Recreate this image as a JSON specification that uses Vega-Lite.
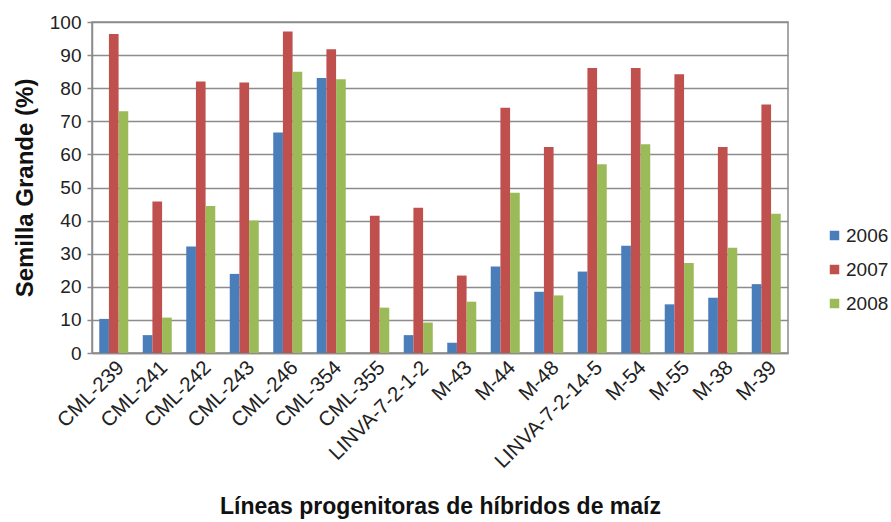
{
  "$schema": "https://vega.github.io/schema/vega-lite/v6.json",
  "width": 696,
  "height": 331,
  "autosize": {"type": "none"},
  "padding": {"left": 92, "top": 22, "right": 103, "bottom": 169},
  "background": "white",
  "config": {
    "font": "Liberation Sans",
    "view": {"stroke": "#8c8c8c", "strokeWidth": 1.5}
  },
  "data": {
    "values": [
      {"linea": "CML-239", "year": "2006", "value": 10.3},
      {"linea": "CML-239", "year": "2007", "value": 96.4},
      {"linea": "CML-239", "year": "2008", "value": 73.0},
      {"linea": "CML-241", "year": "2006", "value": 5.4},
      {"linea": "CML-241", "year": "2007", "value": 45.8},
      {"linea": "CML-241", "year": "2008", "value": 10.7},
      {"linea": "CML-242", "year": "2006", "value": 32.2},
      {"linea": "CML-242", "year": "2007", "value": 82.0},
      {"linea": "CML-242", "year": "2008", "value": 44.4},
      {"linea": "CML-243", "year": "2006", "value": 23.9},
      {"linea": "CML-243", "year": "2007", "value": 81.7},
      {"linea": "CML-243", "year": "2008", "value": 40.0},
      {"linea": "CML-246", "year": "2006", "value": 66.6},
      {"linea": "CML-246", "year": "2007", "value": 97.1},
      {"linea": "CML-246", "year": "2008", "value": 85.0},
      {"linea": "CML-354", "year": "2006", "value": 83.1},
      {"linea": "CML-354", "year": "2007", "value": 91.8},
      {"linea": "CML-354", "year": "2008", "value": 82.7},
      {"linea": "CML-355", "year": "2006", "value": 0},
      {"linea": "CML-355", "year": "2007", "value": 41.5},
      {"linea": "CML-355", "year": "2008", "value": 13.7},
      {"linea": "LINVA-7-2-1-2", "year": "2006", "value": 5.4},
      {"linea": "LINVA-7-2-1-2", "year": "2007", "value": 43.9},
      {"linea": "LINVA-7-2-1-2", "year": "2008", "value": 9.2},
      {"linea": "M-43", "year": "2006", "value": 3.1},
      {"linea": "M-43", "year": "2007", "value": 23.4},
      {"linea": "M-43", "year": "2008", "value": 15.5},
      {"linea": "M-44", "year": "2006", "value": 26.1},
      {"linea": "M-44", "year": "2007", "value": 74.1},
      {"linea": "M-44", "year": "2008", "value": 48.4},
      {"linea": "M-48", "year": "2006", "value": 18.5},
      {"linea": "M-48", "year": "2007", "value": 62.2},
      {"linea": "M-48", "year": "2008", "value": 17.4},
      {"linea": "LINVA-7-2-14-5", "year": "2006", "value": 24.6},
      {"linea": "LINVA-7-2-14-5", "year": "2007", "value": 86.1},
      {"linea": "LINVA-7-2-14-5", "year": "2008", "value": 57.0},
      {"linea": "M-54", "year": "2006", "value": 32.4},
      {"linea": "M-54", "year": "2007", "value": 86.1},
      {"linea": "M-54", "year": "2008", "value": 63.1},
      {"linea": "M-55", "year": "2006", "value": 14.7},
      {"linea": "M-55", "year": "2007", "value": 84.2},
      {"linea": "M-55", "year": "2008", "value": 27.2},
      {"linea": "M-38", "year": "2006", "value": 16.7},
      {"linea": "M-38", "year": "2007", "value": 62.2},
      {"linea": "M-38", "year": "2008", "value": 31.8},
      {"linea": "M-39", "year": "2006", "value": 20.8},
      {"linea": "M-39", "year": "2007", "value": 75.1},
      {"linea": "M-39", "year": "2008", "value": 42.1}
    ]
  },
  "mark": {"type": "bar"},
  "encoding": {
    "x": {
      "field": "linea",
      "type": "nominal",
      "sort": null,
      "scale": {"paddingInner": 0.333, "paddingOuter": 0.1667},
      "axis": {
        "title": "Líneas progenitoras de híbridos de maíz",
        "titleFontSize": 23,
        "titleFontWeight": "bold",
        "titleColor": "#111",
        "titleY": 160,
        "titleBaseline": "alphabetic",
        "labelAngle": -45,
        "labelFontSize": 20.5,
        "labelColor": "#222",
        "labelPadding": 4,
        "ticks": false,
        "domainColor": "#8c8c8c",
        "domainWidth": 1.5
      }
    },
    "xOffset": {"field": "year", "type": "nominal"},
    "y": {
      "field": "value",
      "type": "quantitative",
      "scale": {"domain": [0, 100], "nice": false},
      "axis": {
        "title": "Semilla Grande (%)",
        "titleFontSize": 24,
        "titleFontWeight": "bold",
        "titleColor": "#111",
        "titleX": -60,
        "titleBaseline": "alphabetic",
        "values": [0, 10, 20, 30, 40, 50, 60, 70, 80, 90, 100],
        "labelFontSize": 19,
        "labelColor": "#222",
        "labelPadding": 6,
        "tickSize": 5,
        "tickColor": "#8c8c8c",
        "tickWidth": 1.5,
        "domainColor": "#8c8c8c",
        "domainWidth": 1.5,
        "gridColor": "#8c8c8c",
        "gridWidth": 1.5
      }
    },
    "color": {
      "field": "year",
      "type": "nominal",
      "scale": {"domain": ["2006", "2007", "2008"], "range": ["#4a7ebb", "#c0504d", "#9bbb59"]},
      "legend": {
        "title": null,
        "orient": "none",
        "legendX": 733,
        "legendY": 204,
        "symbolType": "square",
        "symbolSize": 90,
        "symbolStrokeWidth": 0,
        "labelFontSize": 19,
        "labelColor": "#222",
        "labelOffset": 2,
        "rowPadding": 14,
        "padding": 0
      }
    }
  }
}
